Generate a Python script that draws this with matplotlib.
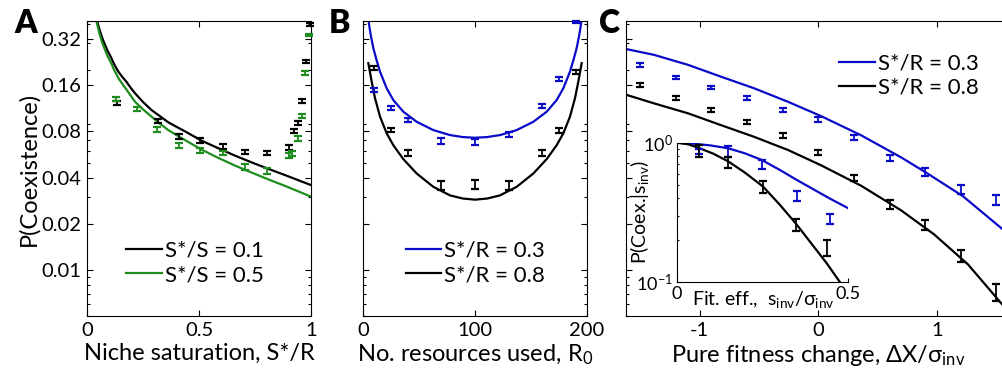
import matplotlib
matplotlib.use('Agg')
import matplotlib.pyplot as plt
import numpy as np
from matplotlib.ticker import FixedLocator, LogLocator, NullFormatter

plt.rcParams['font.family'] = ['Lato', 'DejaVu Sans']
plt.rcParams['mathtext.default'] = 'regular'
plt.rcParams['axes.unicode_minus'] = False

# ---- panel A: niche saturation ----
a_x_black = [0.134, 0.315, 0.411, 0.504, 0.605, 0.705, 0.803, 0.902, 0.924, 0.943, 0.961, 0.978, 0.995]
a_y_black = [0.122, 0.0933, 0.0738, 0.0695, 0.064, 0.0588, 0.058, 0.0628, 0.080, 0.091, 0.126, 0.228, 0.40]
a_e_black = [0.03, 0.03, 0.035, 0.035, 0.035, 0.03, 0.03, 0.035, 0.03, 0.03, 0.03, 0.025, 0.02]
a_x_green = [0.128, 0.221, 0.31, 0.41, 0.504, 0.605, 0.705, 0.803, 0.902, 0.915, 0.94, 0.96, 0.975, 0.99]
a_y_green = [0.130, 0.112, 0.0825, 0.065, 0.0598, 0.058, 0.047, 0.0442, 0.056, 0.0575, 0.072, 0.1007, 0.192, 0.341]
a_e_green = [0.035, 0.03, 0.04, 0.04, 0.035, 0.035, 0.04, 0.04, 0.04, 0.04, 0.035, 0.03, 0.025, 0.02]
a_cx_black = [0.042, 0.050, 0.057, 0.067, 0.079, 0.091, 0.105, 0.121, 0.139, 0.157, 0.175, 0.194, 0.213,
              0.25, 0.288, 0.325, 0.362, 0.40, 0.437, 0.511, 0.586, 0.66, 0.735, 0.809, 0.884, 0.996]
a_cy_black = [0.428, 0.39, 0.36, 0.325, 0.294, 0.268, 0.245, 0.218, 0.196, 0.181, 0.1685, 0.154, 0.142,
              0.124, 0.110, 0.1005, 0.0917, 0.0855, 0.080, 0.0696, 0.0621, 0.0556, 0.0502, 0.0456, 0.0415, 0.0359]
a_cx_green = [0.039, 0.047, 0.055, 0.066, 0.079, 0.091, 0.105, 0.121, 0.139, 0.157, 0.175, 0.194, 0.213,
              0.25, 0.288, 0.325, 0.362, 0.40, 0.437, 0.511, 0.586, 0.66, 0.735, 0.809, 0.884, 0.996]
a_cy_green = [0.428, 0.385, 0.345, 0.305, 0.2724, 0.247, 0.226, 0.2, 0.178, 0.163, 0.150, 0.137, 0.125,
              0.111, 0.0997, 0.0898, 0.0816, 0.0755, 0.0702, 0.0608, 0.0537, 0.0479, 0.0431, 0.0389, 0.0353, 0.0302]

# ---- panel B: number of resources ----
b_x = [10, 25, 40, 70, 100, 130, 160, 175, 190]
b_y_blue = [0.149, 0.114, 0.0948, 0.0692, 0.0678, 0.0766, 0.117, 0.175, 0.414]
b_e_blue = [0.03, 0.035, 0.035, 0.04, 0.045, 0.035, 0.035, 0.03, 0.02]
b_y_black = [0.207, 0.0816, 0.058, 0.0356, 0.0361, 0.0356, 0.058, 0.0814, 0.196]
b_e_black = [0.03, 0.035, 0.04, 0.065, 0.065, 0.065, 0.045, 0.035, 0.03]
b_cx_blue = [4.5, 6.5, 9.0, 12.0, 15.0, 20.9, 26.9, 35.8, 47.8, 62.7, 77.6, 89, 100,
             111, 122.4, 137.3, 152.2, 164.2, 173.1, 179.1, 185.0, 188.0, 191.0, 193.5, 195.5]
b_cy_blue = [0.428, 0.345, 0.279, 0.232, 0.196, 0.153, 0.128, 0.1076, 0.0924, 0.0816, 0.0757, 0.0735, 0.0727,
             0.0735, 0.0757, 0.0816, 0.0924, 0.1076, 0.128, 0.153, 0.196, 0.232, 0.279, 0.345, 0.428]
b_cx_black = [4.5, 7.5, 10.5, 15.0, 20.9, 26.9, 35.8, 47.8, 62.7, 77.6, 89, 100,
              111, 122.4, 137.3, 152.2, 164.2, 173.1, 179.1, 185.0, 189.5, 192.5, 195.5]
b_cy_black = [0.223, 0.169, 0.1316, 0.0997, 0.0778, 0.065, 0.0528, 0.0425, 0.0348, 0.0306, 0.0292, 0.0287,
              0.0292, 0.0306, 0.0348, 0.0425, 0.0528, 0.065, 0.0778, 0.0997, 0.1316, 0.169, 0.223]

# ---- panel C: pure fitness change ----
c_x = [-1.5, -1.2, -0.9, -0.6, -0.3, 0, 0.3, 0.6, 0.9, 1.2, 1.5]
c_y_blue = [0.2174, 0.1795, 0.1546, 0.1329, 0.1103, 0.0959, 0.073, 0.0537, 0.0435, 0.0335, 0.0287]
c_e_blue = [0.025, 0.025, 0.025, 0.03, 0.03, 0.035, 0.04, 0.05, 0.055, 0.065, 0.075]
c_y_black = [0.1607, 0.132, 0.110, 0.0917, 0.0752, 0.0585, 0.0398, 0.0268, 0.0197, 0.0124, 0.00715]
c_e_black = [0.025, 0.025, 0.03, 0.03, 0.035, 0.04, 0.05, 0.07, 0.075, 0.09, 0.13]
c_cx = [-1.612, -1.384, -1.098, -0.820, -0.542, -0.255, 0.023, 0.360, 0.697, 0.916, 1.219, 1.564]
c_cy_blue = [0.275, 0.2526, 0.2174, 0.182, 0.153, 0.1248, 0.1007, 0.0755, 0.0542, 0.0427, 0.0302, 0.0181]
c_cx2 = [-1.612, -1.384, -1.098, -0.820, -0.542, -0.255, 0.023, 0.360, 0.697, 0.975, 1.261, 1.564]
c_cy_black = [0.1382, 0.1219, 0.105, 0.0879, 0.0738, 0.0605, 0.0481, 0.0354, 0.02446, 0.01705, 0.01085, 0.00577]

# ---- inset: fitness effect ----
i_x_blue = [0.065, 0.15, 0.248, 0.35, 0.447]
i_y_blue = [0.862, 0.862, 0.70, 0.415, 0.284]
i_e_blue = [0.04, 0.09, 0.07, 0.085, 0.08]
i_x_black = [0.065, 0.15, 0.252, 0.348, 0.439]
i_y_black = [0.872, 0.719, 0.484, 0.26, 0.177]
i_e_black = [0.10, 0.09, 0.10, 0.10, 0.13]
i_cx_blue = [0, 0.0486, 0.097, 0.150, 0.199, 0.248, 0.301, 0.350, 0.398, 0.447, 0.50]
i_cy_blue = [1.0, 0.984, 0.957, 0.912, 0.839, 0.752, 0.637, 0.541, 0.464, 0.397, 0.339]
i_cx_black = [0, 0.034, 0.065, 0.107, 0.150, 0.199, 0.252, 0.301, 0.348, 0.398, 0.437, 0.476]
i_cy_black = [1.0, 0.974, 0.916, 0.834, 0.735, 0.61, 0.484, 0.358, 0.262, 0.182, 0.137, 0.1]

y_ticks = [0.01, 0.02, 0.04, 0.08, 0.16, 0.32]
y_ticklabels = ['0.01', '0.02', '0.04', '0.08', '0.16', '0.32']

BLUE = '#0a0ac8'
GREEN = '#1e8c1e'
BLACK = 'black'
FS_TICK = 14.5
FS_LAB = 17
FS_LEG = 16

W, H = 1003.0, 381.0
def box(l, r, t, b):
    return [l / W, 1 - b / H, (r - l) / W, (b - t) / H]

fig = plt.figure(figsize=(W / 100, H / 100), dpi=100)
axA = fig.add_axes(box(87.3, 311, 21, 316))
axB = fig.add_axes(box(363.3, 586.7, 21, 316))
axC = fig.add_axes(box(626, 1010.6, 21, 316))
ins = fig.add_axes(box(676.7, 848.3, 142.7, 282.3))

def style(ax, labels):
    ax.set_yscale('log')
    ax.set_ylim(0.005, 0.42)
    ax.yaxis.set_major_locator(FixedLocator(y_ticks))
    ax.yaxis.set_minor_locator(LogLocator(base=10, subs=np.arange(2, 10) * 1.0, numticks=20))
    ax.yaxis.set_minor_formatter(NullFormatter())
    if labels:
        ax.set_yticklabels(y_ticklabels)
    else:
        ax.yaxis.set_major_formatter(NullFormatter())
    ax.tick_params(which='both', direction='in', top=True, right=True, labelsize=FS_TICK, width=0.8)
    ax.tick_params(which='major', length=4, pad=4)
    ax.tick_params(which='minor', length=2)
    for s in ax.spines.values():
        s.set_linewidth(0.8)

def ebar(ax, x, y, rel, c, clip=True):
    err = np.array(y) * np.array(rel)
    ax.errorbar(x, y, yerr=err, fmt='none', ecolor=c, elinewidth=1.3,
                capsize=2.6, capthick=1.6, clip_on=clip, zorder=3)

def legend(ax, anchor):
    ax.legend(loc='center left', bbox_to_anchor=anchor, frameon=False, fontsize=FS_LEG,
              handlelength=1.6, handletextpad=0.12, labelspacing=0.2, borderpad=0, borderaxespad=0)

# panel A
style(axA, True)
axA.set_xlim(0, 1)
axA.set_xticks([0, 0.5, 1])
axA.set_xticklabels(['0', '0.5', '1'])
axA.plot(a_cx_black, a_cy_black, color=BLACK, lw=1.6, label='S*/S = 0.1')
axA.plot(a_cx_green, a_cy_green, color=GREEN, lw=1.6, label='S*/S = 0.5')
ebar(axA, a_x_black, a_y_black, a_e_black, BLACK, clip=False)
ebar(axA, a_x_green, a_y_green, a_e_green, GREEN, clip=False)
axA.set_xlabel('Niche saturation, S*/R', fontsize=FS_LAB, labelpad=3)
axA.set_ylabel('P(Coexistence)', fontsize=FS_LAB, labelpad=2)
legend(axA, (0.175, 0.18))

# panel B
style(axB, False)
axB.set_xlim(0, 200)
axB.set_xticks([0, 100, 200])
axB.plot(b_cx_blue, b_cy_blue, color=BLUE, lw=1.6, label='S*/R = 0.3')
axB.plot(b_cx_black, b_cy_black, color=BLACK, lw=1.6, label='S*/R = 0.8')
ebar(axB, b_x, b_y_blue, b_e_blue, BLUE, clip=False)
ebar(axB, b_x, b_y_black, b_e_black, BLACK, clip=False)
axB.set_xlabel('No. resources used, R$_0$', fontsize=FS_LAB, labelpad=3)
legend(axB, (0.19, 0.18))

# panel C
style(axC, False)
axC.set_xlim(-1.62, 1.62)
axC.set_xticks([-1, 0, 1])
axC.plot(c_cx, c_cy_blue, color=BLUE, lw=1.6, label='S*/R = 0.3')
axC.plot(c_cx2, c_cy_black, color=BLACK, lw=1.6, label='S*/R = 0.8')
ebar(axC, c_x, c_y_blue, c_e_blue, BLUE)
ebar(axC, c_x, c_y_black, c_e_black, BLACK)
axC.set_xlabel('Pure fitness change, ΔX/σ$_{inv}$', fontsize=FS_LAB, labelpad=3)
legend(axC, (0.555, 0.815))

# inset
ins.patch.set_alpha(0)
ins.set_yscale('log')
ins.set_ylim(0.1, 1)
ins.set_xlim(0, 0.5)
ins.yaxis.set_minor_formatter(NullFormatter())
ins.set_xticks([0, 0.5])
ins.set_xticklabels(['0', '0.5'])
ins.spines['top'].set_visible(False)
ins.spines['right'].set_visible(False)
ins.tick_params(which='both', direction='in', labelsize=13, width=0.8)
ins.tick_params(which='major', length=3, pad=3)
ins.tick_params(which='minor', length=1.5)
ins.plot(i_cx_blue, i_cy_blue, color=BLUE, lw=1.6)
ins.plot(i_cx_black, i_cy_black, color=BLACK, lw=1.6)
ebar(ins, i_x_blue, i_y_blue, i_e_blue, BLUE, clip=False)
ebar(ins, i_x_black, i_y_black, i_e_black, BLACK, clip=False)
ins.set_ylabel('P(Coex.|s$_{inv}$)', fontsize=14)
ins.yaxis.set_label_coords(-0.15, 0.5)
fig.text(692 / W, 1 - 305 / H, 'Fit. eff.,  s$_{inv}$/σ$_{inv}$', fontsize=14, va='baseline')

# panel letters
for x, t in [(14, 'A'), (329, 'B'), (599, 'C')]:
    fig.text(x / W, 1 - 33 / H, t, fontsize=23, fontweight='heavy', va='baseline')

fig.savefig('out.png', dpi=100)
